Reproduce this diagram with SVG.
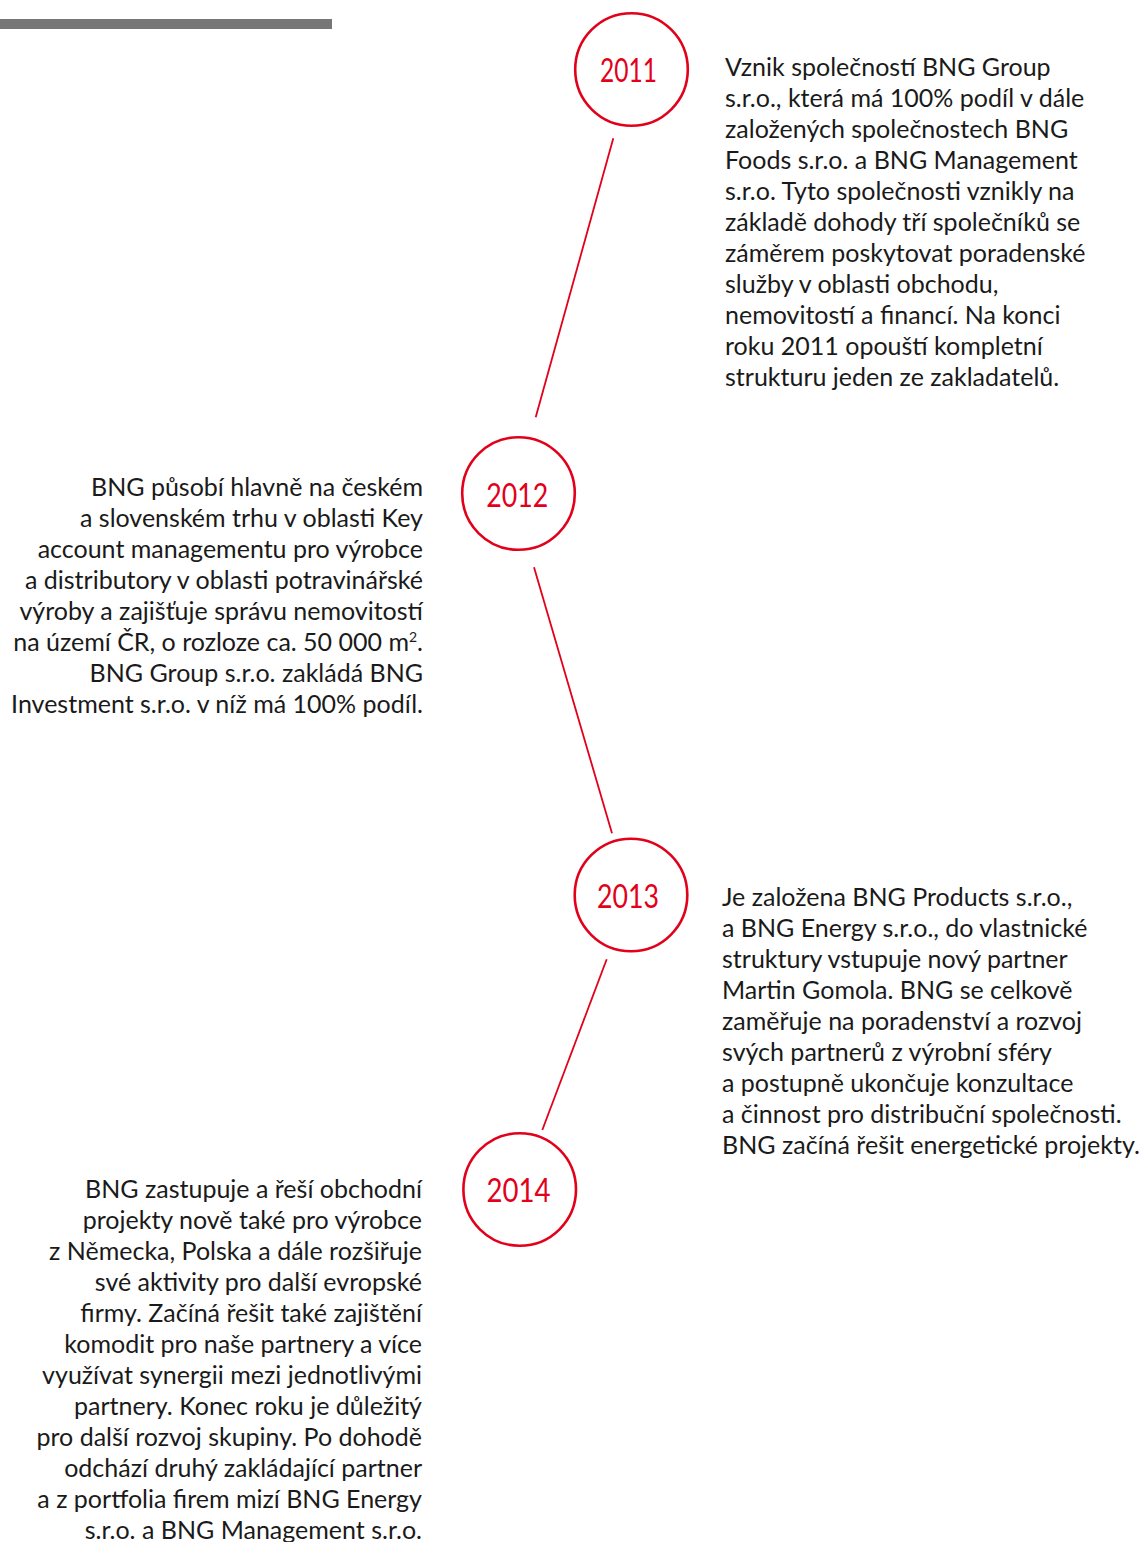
<svg xmlns="http://www.w3.org/2000/svg" width="1140" height="1542" viewBox="0 0 1140 1542">
<style>
.ring{fill:none;stroke:#e2001a;stroke-width:2.6}
.yr{font-family:Lato,"Open Sans","Liberation Sans",sans-serif;font-size:32px;fill:#e2001a;text-anchor:middle}
.tx{font-family:Lato,"Open Sans","Liberation Sans",sans-serif;font-size:25px;fill:#1a1a1a}
.r{text-anchor:end}
.conn line{stroke:#e2001a;stroke-width:1.8}
</style>
<rect x="0" y="19" width="332" height="10" fill="#777777"/>
<g class="conn">
<line x1="613.3" y1="138.3" x2="535.7" y2="417.3"/>
<line x1="534" y1="567.3" x2="612" y2="833.3"/>
<line x1="606.7" y1="959.3" x2="542.3" y2="1130"/>
</g>
<g id="n2011">
<circle class="ring" cx="631.5" cy="69.5" r="56.3"/>
<text class="yr" x="628.5" y="82" textLength="57" lengthAdjust="spacingAndGlyphs">2011</text>
<text class="tx" x="725" y="76">Vznik společností BNG Group</text>
<text class="tx" x="725" y="107">s.r.o., která má 100% podíl v dále</text>
<text class="tx" x="725" y="138">založených společnostech BNG</text>
<text class="tx" x="725" y="169">Foods s.r.o. a BNG Management</text>
<text class="tx" x="725" y="200">s.r.o. Tyto společnosti vznikly na</text>
<text class="tx" x="725" y="231">základě dohody tří společníků se</text>
<text class="tx" x="725" y="262">záměrem poskytovat poradenské</text>
<text class="tx" x="725" y="293">služby v oblasti obchodu,</text>
<text class="tx" x="725" y="324">nemovitostí a financí. Na konci</text>
<text class="tx" x="725" y="355">roku 2011 opouští kompletní</text>
<text class="tx" x="725" y="386">strukturu jeden ze zakladatelů.</text>
</g>
<g id="n2012">
<circle class="ring" cx="518.5" cy="493.5" r="56.3"/>
<text class="yr" x="517.3" y="507" textLength="62" lengthAdjust="spacingAndGlyphs">2012</text>
<text class="tx r" x="423" y="496">BNG působí hlavně na českém</text>
<text class="tx r" x="423" y="527">a slovenském trhu v oblasti Key</text>
<text class="tx r" x="423" y="558">account managementu pro výrobce</text>
<text class="tx r" x="423" y="589">a distributory v oblasti potravinářské</text>
<text class="tx r" x="423" y="620">výroby a zajišťuje správu nemovitostí</text>
<text class="tx r" x="423" y="651">na území ČR, o rozloze ca. 50 000 m<tspan font-size="14" dy="-9">2</tspan><tspan dy="9">.</tspan></text>
<text class="tx r" x="423" y="682">BNG Group s.r.o. zakládá BNG</text>
<text class="tx r" x="423" y="713">Investment s.r.o. v níž má 100% podíl.</text>
</g>
<g id="n2013">
<circle class="ring" cx="631" cy="895" r="56.3"/>
<text class="yr" x="628" y="908" textLength="62" lengthAdjust="spacingAndGlyphs">2013</text>
<text class="tx" x="722" y="906">Je založena BNG Products s.r.o.,</text>
<text class="tx" x="722" y="937">a BNG Energy s.r.o., do vlastnické</text>
<text class="tx" x="722" y="968">struktury vstupuje nový partner</text>
<text class="tx" x="722" y="999">Martin Gomola. BNG se celkově</text>
<text class="tx" x="722" y="1030">zaměřuje na poradenství a rozvoj</text>
<text class="tx" x="722" y="1061">svých partnerů z výrobní sféry</text>
<text class="tx" x="722" y="1092">a postupně ukončuje konzultace</text>
<text class="tx" x="722" y="1123">a činnost pro distribuční společnosti.</text>
<text class="tx" x="722" y="1154">BNG začíná řešit energetické projekty.</text>
</g>
<g id="n2014">
<circle class="ring" cx="519.7" cy="1189.5" r="56.3"/>
<text class="yr" x="518.4" y="1202" textLength="64" lengthAdjust="spacingAndGlyphs">2014</text>
<text class="tx r" x="422" y="1198">BNG zastupuje a řeší obchodní</text>
<text class="tx r" x="422" y="1229">projekty nově také pro výrobce</text>
<text class="tx r" x="422" y="1260">z Německa, Polska a dále rozšiřuje</text>
<text class="tx r" x="422" y="1291">své aktivity pro další evropské</text>
<text class="tx r" x="422" y="1322">firmy. Začíná řešit také zajištění</text>
<text class="tx r" x="422" y="1353">komodit pro naše partnery a více</text>
<text class="tx r" x="422" y="1384">využívat synergii mezi jednotlivými</text>
<text class="tx r" x="422" y="1415">partnery. Konec roku je důležitý</text>
<text class="tx r" x="422" y="1446">pro další rozvoj skupiny. Po dohodě</text>
<text class="tx r" x="422" y="1477">odchází druhý zakládající partner</text>
<text class="tx r" x="422" y="1508">a z portfolia firem mizí BNG Energy</text>
<text class="tx r" x="422" y="1539">s.r.o. a BNG Management s.r.o.</text>
</g>
</svg>
